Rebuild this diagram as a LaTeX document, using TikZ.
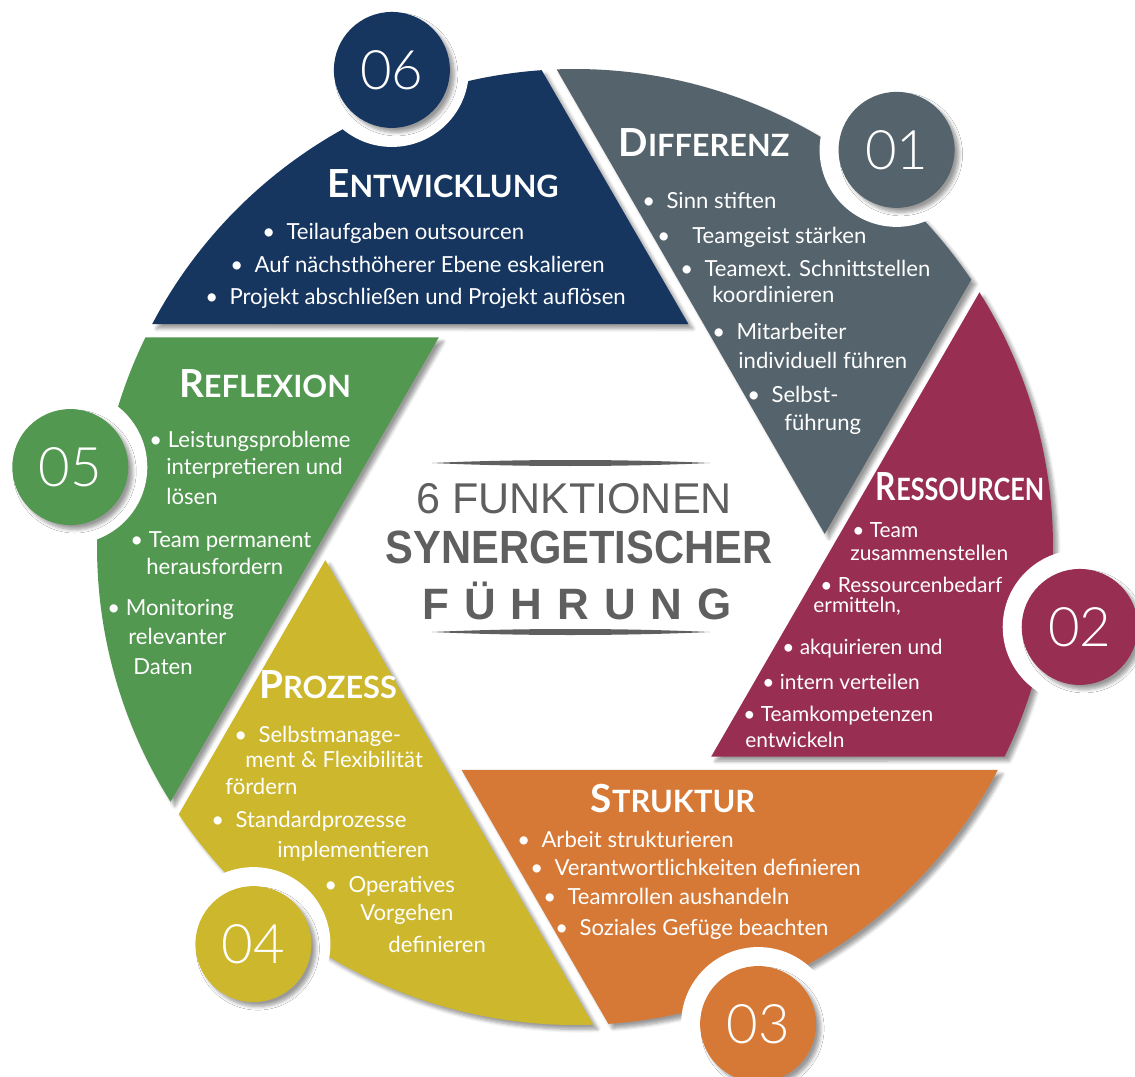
\documentclass[tikz,border=0pt]{standalone}
\usepackage{fontspec}
\usepackage{graphicx}
\setmainfont{Lato}
\newfontfamily\headfont{Liberation Sans}
\IfFontExistsTF{Lato Light}{\newfontfamily\numfont{Lato Light}}{\newfontfamily\numfont{Lato}}
\usetikzlibrary{shadows.blur}

\definecolor{navy}{RGB}{22,54,96}
\definecolor{slate}{RGB}{84,99,108}
\definecolor{berry}{RGB}{152,47,82}
\definecolor{rust}{RGB}{215,121,54}
\definecolor{mustard}{RGB}{205,183,45}
\definecolor{leaf}{RGB}{82,152,80}
\definecolor{ink}{RGB}{95,95,95}

\newcommand{\seghead}[2]{{\fontsize{22}{24}\selectfont\bfseries #1}{\fontsize{17.5}{20}\selectfont\bfseries #2}}

\tikzset{
    segment/.style={blur shadow={shadow xshift=2.5pt, shadow yshift=-2.5pt, shadow opacity=40, shadow blur steps=6}},
    disc/.style={circle, minimum size=2.32cm, inner sep=0pt, text=white, font=\numfont\fontsize{31}{31}\selectfont,
        blur shadow={shadow xshift=2.5pt, shadow yshift=-2.5pt, shadow opacity=40, shadow blur steps=6}},
    title/.style={text=white, anchor=base, inner sep=0pt},
    item/.style={text=white, anchor=base west, inner sep=0pt, font=\fontsize{12.6}{14}\selectfont},
    narrow/.style={item, font=\fontsize{11.9}{14}\selectfont},
}

\begin{document}
\begin{tikzpicture}[x=0.02cm, y=-0.02cm]
        \useasboundingbox (0,0) rectangle (1135,1077);

        \begin{scope}[shift={(575,547)}]
            \fill[navy, segment] (-63:250) -- (-152.2:478) arc[start angle=-152.2, end angle=-94, radius=478] -- cycle;
            \fill[slate, segment] (-3:250) -- (-92.2:478) arc[start angle=-92.2, end angle=-34, radius=478] -- cycle;
            \fill[berry, segment] (57:250) -- (-32.2:478) arc[start angle=-32.2, end angle=26, radius=478] -- cycle;
            \fill[rust, segment] (117:250) -- (27.8:478) arc[start angle=27.8, end angle=86, radius=478] -- cycle;
            \fill[mustard, segment] (177:250) -- (87.8:478) arc[start angle=87.8, end angle=146, radius=478] -- cycle;
            \fill[leaf, segment] (237:250) -- (147.8:478) arc[start angle=147.8, end angle=206, radius=478] -- cycle;

            % white rings round the numbers
            \fill[white] (-111:511) circle[radius=77];
            \fill[white] (-51:511) circle[radius=77];
            \fill[white] (9:511) circle[radius=77];
            \fill[white] (69:511) circle[radius=77];
            \fill[white] (129:511) circle[radius=77];
            \fill[white] (189:511) circle[radius=77];

            \node[disc, fill=navy] (n06) at (-111:511) {06};
            \node[disc, fill=slate] (n01) at (-51:511) {01};
            \node[disc, fill=berry] (n02) at (9:511) {02};
            \node[disc, fill=rust] (n03) at (69:511) {03};
            \node[disc, fill=mustard] (n04) at (129:511) {04};
            \node[disc, fill=leaf] (n05) at (189:511) {05};
        \end{scope}

        % centre
        \fill[ink] (432,463) .. controls (520,459) and (620,459) .. (710,463) .. controls (620,467) and (520,467) .. cycle;
        \fill[ink] (432,632) .. controls (520,628) and (620,628) .. (710,632) .. controls (620,636) and (520,636) .. cycle;
        \node[ink, font=\headfont\fontsize{24.5}{26}\selectfont] (six) at (574,499) {6 FUNKTIONEN};
        \node[ink, font=\headfont\bfseries\fontsize{23.7}{26}\selectfont] (syn) at (579,547) {\scalebox{1}[1.12]{SYNERGETISCHER}};
        \node[ink, font=\headfont\bfseries\fontsize{25}{26}\selectfont] (fue) at (577,601)
            {F\hspace{.34em}Ü\hspace{.34em}H\hspace{.34em}R\hspace{.34em}U\hspace{.34em}N\hspace{.34em}G};

        % 06
        \node[title] (tEnt) at (443,198) {\seghead{E}{NTWICKLUNG}};
        \node[item] (ent1) at (262,240) {\textbullet\ \ Teilaufgaben outsourcen};
        \node[item] (ent2) at (230,273) {\textbullet\ \ Auf nächsthöherer Ebene eskalieren};
        \node[item] (ent3) at (205,305) {\textbullet\ \ Projekt abschließen und Projekt auflösen};

        % 01
        \node[title] (tDif) at (704,157) {\seghead{D}{IFFERENZ}};
        \node[item] (dif1) at (642,209) {\textbullet\ \ Sinn stiften};
        \node[item] (dif2) at (657,244) {\textbullet\quad Teamgeist stärken};
        \node[item] (dif3) at (680,277) {\textbullet\ \ Teamext. Schnittstellen};
        \node[item] (dif4) at (712,303) {koordinieren};
        \node[item] (dif5) at (712,340) {\textbullet\ \ Mitarbeiter};
        \node[item] (dif6) at (738,369) {individuell führen};
        \node[item] (dif7) at (747,402) {\textbullet\ \ Selbst-};
        \node[item] (dif8) at (784,431) {führung};

        % 02
        \node[title] (tRes) at (960,500) {\scalebox{.82}[1]{\seghead{R}{ESSOURCEN}}};
        \node[narrow] (res1) at (852,537) {\textbullet\ Team};
        \node[narrow] (res2) at (850,560) {zusammenstellen};
        \node[narrow] (res3) at (820,592) {\textbullet\ Ressourcenbedarf};
        \node[narrow] (res4) at (813,612) {ermitteln,};
        \node[narrow] (res5) at (782,654) {\textbullet\ akquirieren und};
        \node[narrow] (res6) at (762,689) {\textbullet\ intern verteilen};
        \node[narrow] (res7) at (743,721) {\textbullet\ Teamkompetenzen};
        \node[narrow] (res8) at (745,747) {entwickeln};

        % 03
        \node[title] (tStr) at (673,812) {\seghead{S}{TRUKTUR}};
        \node[item] (str1) at (517,847) {\textbullet\ \ Arbeit strukturieren};
        \node[item] (str2) at (530,875) {\textbullet\ \ Verantwortlichkeiten definieren};
        \node[item] (str3) at (543,904) {\textbullet\ \ Teamrollen aushandeln};
        \node[item] (str4) at (555,935) {\textbullet\ \ Soziales Gefüge beachten};

        % 04
        \node[title] (tPro) at (328,698) {\seghead{P}{ROZESS}};
        \node[item] (pro1) at (234,742) {\textbullet\ \ Selbstmanage-};
        \node[item] (pro2) at (245,767) {ment \& Flexibilität};
        \node[item] (pro3) at (225,794) {fördern};
        \node[item] (pro4) at (211,827) {\textbullet\ \ Standardprozesse};
        \node[item] (pro5) at (277,857) {implementieren};
        \node[item] (pro6) at (324,892) {\textbullet\ \ Operatives};
        \node[item] (pro7) at (360,920) {Vorgehen};
        \node[item] (pro8) at (388,952) {definieren};

        % 05
        \node[title] (tRef) at (265,398) {\seghead{R}{EFLEXION}};
        \node[item] (ref1) at (149,447) {\textbullet\ Leistungsprobleme};
        \node[item] (ref2) at (166,474) {interpretieren und};
        \node[item] (ref3) at (166,504) {lösen};
        \node[item] (ref4) at (130,547) {\textbullet\ Team permanent};
        \node[item] (ref5) at (146,574) {herausfordern};
        \node[item] (ref6) at (107,615) {\textbullet\ Monitoring};
        \node[item] (ref7) at (128,644) {relevanter};
        \node[item] (ref8) at (133,674) {Daten};
\end{tikzpicture}
\end{document}
